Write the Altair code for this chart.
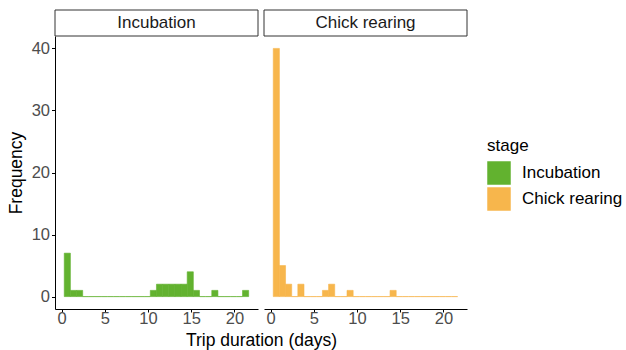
import altair as alt
import pandas as pd

stages = ["Incubation", "Chick rearing"]
colors = ["#62B22F", "#F7B64C"]
first_edge = 0.31
bin_width = 0.711
incubation_counts = [7, 1, 1, 0, 0, 0, 0, 0, 0, 0, 0, 0, 0, 0, 1,
                     2, 2, 2, 2, 2, 4, 1, 0, 0, 1, 0, 0, 0, 0, 1]
chick_counts = [40, 5, 2, 0, 2, 0, 0, 0, 1, 2, 0, 0, 1, 0, 0,
                0, 0, 0, 0, 1, 0, 0, 0, 0, 0, 0, 0, 0, 0, 0]
x_ticks = [0, 5, 10, 15, 20]
y_ticks = [0, 10, 20, 30, 40]

W, H = 203, 273
FONT = "Liberation Sans"
TICK_FS = 16.5
TITLE_FS = 17.5
TEXT_FS = 17


def panel(stage, color, counts, left):
    n = len(counts)
    df = pd.DataFrame({
        "stage": [stage] * n,
        "x": [first_edge + k * bin_width for k in range(n)],
        "x2": [first_edge + (k + 1) * bin_width for k in range(n)],
        "count": counts,
        "zero": [0] * n,
    })
    xaxis = alt.Axis(values=x_ticks, grid=False, domainColor="black", tickColor="black",
                     labelColor="#4D4D4D", labelFontSize=TICK_FS, tickSize=3, labelPadding=-2,
                     labelFont=FONT, titleFont=FONT,
                     title="Trip duration (days)" if left else None,
                     titleFontSize=TITLE_FS, titleFontWeight="normal", titleColor="black",
                     titleX=W + 3, titlePadding=5)
    if left:
        yaxis = alt.Axis(values=y_ticks, grid=False, domainColor="black", tickColor="black",
                         labelColor="#4D4D4D", labelFontSize=TICK_FS, tickSize=3.5, labelPadding=2,
                         labelFont=FONT, titleFont=FONT, title="Frequency",
                         titleFontSize=TITLE_FS, titleFontWeight="normal", titleColor="black",
                         titlePadding=6)
    else:
        yaxis = None
    bars = alt.Chart(df).mark_rect(stroke=color, strokeWidth=0.6).encode(
        x=alt.X("x:Q", scale=alt.Scale(domain=[-0.76, 22.72], nice=False, zero=False), axis=xaxis),
        x2="x2:Q",
        y=alt.Y("count:Q", scale=alt.Scale(domain=[-2, 42], nice=False, zero=False), axis=yaxis),
        y2="zero:Q",
        color=alt.Color("stage:N", scale=alt.Scale(domain=stages, range=colors),
                        legend=alt.Legend(title="stage", orient="none", legendX=432, legendY=102,
                                          symbolType="square", symbolSize=552, symbolStrokeWidth=0,
                                          titleFontSize=TEXT_FS, labelFontSize=TEXT_FS,
                                          titleFontWeight="normal", padding=0,
                                          titleFont=FONT, labelFont=FONT, labelColor="black",
                                          titleColor="black", rowPadding=2, labelOffset=11,
                                          titlePadding=6, symbolOpacity=1)),
    )
    sdf = pd.DataFrame({"label": [stage]})
    strip = alt.Chart(sdf).mark_rect(fill="white", stroke="#333333", strokeWidth=1).encode(
        x=alt.value(0), x2=alt.value(W), y=alt.value(-26), y2=alt.value(0))
    stext = alt.Chart(sdf).mark_text(fontSize=TEXT_FS, font=FONT, color="#1A1A1A", baseline="middle").encode(
        x=alt.value(W / 2), y=alt.value(-13), text="label:N")
    return alt.layer(bars, strip, stext).properties(width=W, height=H)


chart = alt.hconcat(
    panel(stages[0], colors[0], incubation_counts, True),
    panel(stages[1], colors[1], chick_counts, False),
    spacing=6, bounds="flush",
).properties(padding={"left": 7, "top": 9, "right": 0, "bottom": 2}).configure_view(stroke=None)

chart.save("out.html", embed_options={"renderer": "svg", "actions": False})
